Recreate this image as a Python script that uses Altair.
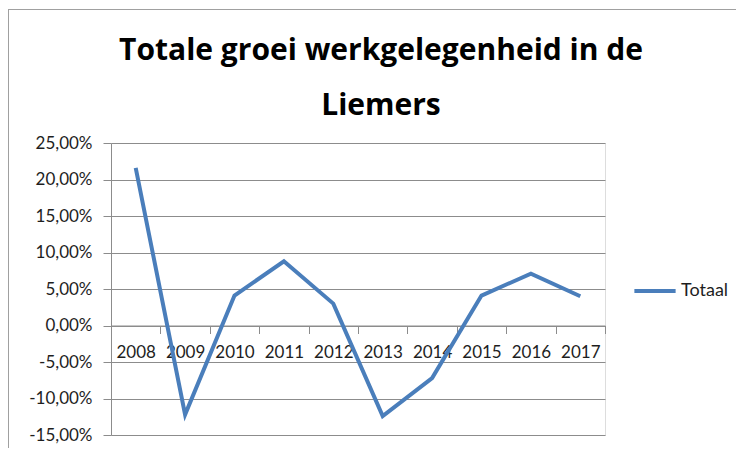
import altair as alt
import pandas as pd

years = ["2008", "2009", "2010", "2011", "2012", "2013", "2014", "2015", "2016", "2017"]
growth = [21.6, -12.2, 4.1, 8.8, 3.0, -12.4, -7.2, 4.1, 7.1, 4.0]
series_name = "Totaal"
y_ticks = [-15, -10, -5, 0, 5, 10, 15, 20, 25]
title_lines = ["Totale groei werkgelegenheid in de", "Liemers"]

df = pd.DataFrame({"Jaar": years, "Groei": growth, "Reeks": [series_name] * len(years)})

W, H = 494, 292
Y_MIN, Y_MAX = -15, 25
zero_offset = -(H * (0 - Y_MIN) / (Y_MAX - Y_MIN))

LINE_COLOR = "#4A7EBB"
GRID = "#8C8C8C"
TEXT = "#1E1E1E"
FONT = "Lato"

frame = alt.Chart(df).mark_rect(fillOpacity=0, stroke="#A0A0A0", strokeWidth=1).encode(
    x=alt.value(-102.5), x2=alt.value(W + 200), y=alt.value(-133.5), y2=alt.value(H + 100)
)

line = alt.Chart(df).mark_line(strokeWidth=4).encode(
    x=alt.X(
        "Jaar:N",
        sort=years,
        bandPosition=0.5,
        scale=alt.Scale(type="band", paddingInner=0, paddingOuter=0),
        axis=alt.Axis(
            orient="bottom",
            offset=zero_offset,
            tickBand="extent",
            tickSize=8,
            labelPadding=11,
            labelAngle=0,
            labelFont=FONT,
            labelFontSize=17,
            labelColor=TEXT,
            domainColor=GRID,
            tickColor=GRID,
            grid=False,
            title=None,
        ),
    ),
    y=alt.Y(
        "Groei:Q",
        scale=alt.Scale(domain=[Y_MIN, Y_MAX], nice=False, zero=False),
        axis=alt.Axis(
            values=y_ticks,
            labelExpr="replace(replace(format(datum.value, '.2f'), '.', ','), '\u2212', '-') + '%'",
            tickSize=8,
            labelPadding=11,
            labelFont=FONT,
            labelFontSize=17,
            labelColor=TEXT,
            domainColor=GRID,
            tickColor=GRID,
            gridColor=GRID,
            grid=True,
            title=None,
        ),
    ),
    color=alt.Color(
        "Reeks:N",
        scale=alt.Scale(domain=[series_name], range=[LINE_COLOR]),
        legend=alt.Legend(
            orient="none",
            legendX=521,
            legendY=125,
            title=None,
            symbolType="stroke",
            symbolStrokeWidth=4,
            symbolSize=1700,
            labelFont=FONT,
            labelFontSize=18,
            labelColor=TEXT,
            labelOffset=3,
        ),
    ),
)

chart = (
    alt.layer(frame, line)
    .properties(
        width=W,
        height=H,
        padding={"left": 103, "top": 135, "right": 131, "bottom": 13},
        autosize=alt.AutoSizeParams(type="none"),
        title=alt.TitleParams(
            title_lines,
            font="Open Sans",
            fontSize=30,
            fontWeight="bold",
            color="black",
            anchor="middle",
            dx=23,
            lineHeight=55,
            offset=-112,
        ),
    )
    .configure_view(stroke=None)
    .configure(background="white")
)

chart.save("out.html", embed_options={"renderer": "svg", "actions": False})
